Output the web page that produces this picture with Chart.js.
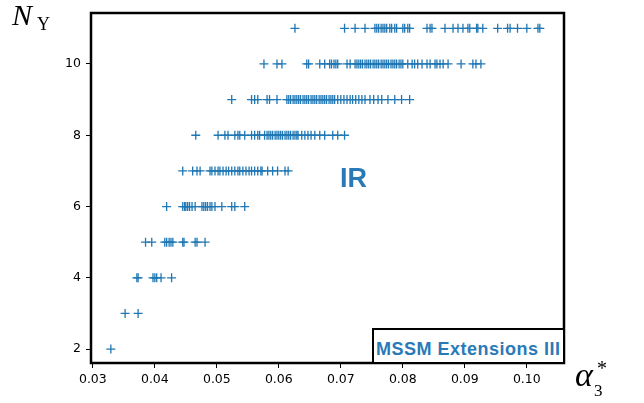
<!DOCTYPE html>
<html>
<head>
<meta charset="utf-8">
<script src="https://cdn.jsdelivr.net/npm/chart.js@4"></script>
<style>
  html, body { margin: 0; padding: 0; background: #fff; }
  #wrap { position: relative; width: 644px; height: 403px; }
  canvas { position: absolute; left: 0; top: 0; }
  .lbl { position: absolute; white-space: nowrap; line-height: 1; }
  .serif { font-family: "Liberation Serif", "DejaVu Serif", serif; color: #000; }
  #ir { left: 340px; top: 163px; font: bold 27px "Liberation Sans", Arial, sans-serif; color: #2a7ab8; }
  #box { position: absolute; left: 372px; top: 328px; width: 189px; height: 32px; border: 2px solid #000; border-bottom: none; background: #fff; }
  #boxText { left: 376px; top: 339px; font: bold 18px "Liberation Sans", Arial, sans-serif; color: #2a7ab8; letter-spacing: 0.5px; }
</style>
</head>
<body>
<div id="wrap">
  <canvas id="chart" width="644" height="403"></canvas>
  <div id="box"></div>
  <span class="lbl" id="ir">IR</span>
  <span class="lbl" id="boxText">MSSM Extensions III</span>
  <span class="lbl serif" style="left:12px; top:0px; font-size:30px; font-style:italic;">N</span>
  <span class="lbl serif" style="left:37px; top:15px; font-size:18px;">Y</span>
  <span class="lbl serif" style="left:575px; top:358px; font-size:34px; font-style:italic;">α</span>
  <span class="lbl serif" style="left:594px; top:382px; font-size:17px;">3</span>
  <span class="lbl serif" style="left:597px; top:358px; font-size:20px;">*</span>
</div>
<script>
// Scatter of N_Y against alpha_3* (one row of alpha values per N_Y)

const N_VALUES = [2, 3, 4, 5, 6, 7, 8, 9, 10, 11];

const alphaN2 = [0.0329];
const alphaN3 = [0.0352, 0.0373];
const alphaN4 = [0.0371, 0.0373, 0.0397, 0.0400, 0.0403, 0.0410, 0.0427];
const alphaN5 = [0.0385, 0.0395, 0.0416, 0.0419, 0.0423, 0.0426, 0.0429, 0.0445, 0.0447,
                 0.0465, 0.0468, 0.0481];
const alphaN6 = [0.0419, 0.0445, 0.0448, 0.0450, 0.0453, 0.0456, 0.0460, 0.0465, 0.0476,
                 0.0479, 0.0482, 0.0485, 0.0489, 0.0492, 0.0497, 0.0508, 0.0524, 0.0529, 0.0545];
const alphaN7 = [0.0445, 0.0461, 0.0468, 0.0473, 0.0489, 0.0492, 0.0497, 0.0502, 0.0505,
                 0.0510, 0.0515, 0.0519, 0.0524, 0.0529, 0.0534, 0.0537, 0.0542, 0.0547,
                 0.0552, 0.0556, 0.0561, 0.0566, 0.0571, 0.0573, 0.0582, 0.0590, 0.0598,
                 0.0610, 0.0615];
const alphaN8 = [0.0466, 0.0502, 0.0513, 0.0518, 0.0529, 0.0534, 0.0537, 0.0545, 0.0556,
                 0.0561, 0.0566, 0.0569, 0.0577, 0.0581, 0.0584, 0.0587, 0.0590, 0.0594,
                 0.0597, 0.0600, 0.0603, 0.0606, 0.0610, 0.0613, 0.0616, 0.0619, 0.0623,
                 0.0626, 0.0629, 0.0631, 0.0637, 0.0642, 0.0647, 0.0652, 0.0658, 0.0666,
                 0.0674, 0.0687, 0.0695, 0.0706];
const alphaN9 = [0.0524, 0.0556, 0.0561, 0.0566, 0.0581, 0.0585, 0.0597, 0.0613, 0.0616,
                 0.0619, 0.0623, 0.0626, 0.0629, 0.0632, 0.0635, 0.0639, 0.0642, 0.0645,
                 0.0648, 0.0652, 0.0655, 0.0658, 0.0661, 0.0665, 0.0668, 0.0671, 0.0674,
                 0.0677, 0.0681, 0.0684, 0.0687, 0.0690, 0.0695, 0.0700, 0.0705, 0.0710,
                 0.0715, 0.0719, 0.0724, 0.0729, 0.0734, 0.0739, 0.0747, 0.0753, 0.0760,
                 0.0766, 0.0776, 0.0787, 0.0798, 0.0811];
const alphaN10 = [0.0576, 0.0597, 0.0605, 0.0645, 0.0648, 0.0666, 0.0674, 0.0682, 0.0685,
                  0.0689, 0.0692, 0.0695, 0.0710, 0.0715, 0.0723, 0.0726, 0.0729, 0.0732,
                  0.0735, 0.0739, 0.0742, 0.0745, 0.0748, 0.0752, 0.0755, 0.0758, 0.0761,
                  0.0765, 0.0768, 0.0771, 0.0774, 0.0777, 0.0781, 0.0784, 0.0787, 0.0790,
                  0.0794, 0.0797, 0.0800, 0.0808, 0.0815, 0.0819, 0.0824, 0.0831, 0.0839,
                  0.0844, 0.0852, 0.0855, 0.0860, 0.0865, 0.0873, 0.0894, 0.0913, 0.0918,
                  0.0926];
const alphaN11 = [0.0626, 0.0706, 0.0723, 0.0739, 0.0755, 0.0758, 0.0761, 0.0765, 0.0768,
                  0.0771, 0.0774, 0.0779, 0.0782, 0.0787, 0.0790, 0.0800, 0.0803, 0.0808,
                  0.0811, 0.0839, 0.0844, 0.0847, 0.0868, 0.0881, 0.0889, 0.0897, 0.0905,
                  0.0908, 0.0919, 0.0921, 0.0929, 0.0953, 0.0969, 0.0973, 0.0985, 0.1000,
                  0.1018, 0.1021];

const ALPHA_ROWS = [alphaN2, alphaN3, alphaN4, alphaN5, alphaN6, alphaN7, alphaN8, alphaN9, alphaN10, alphaN11];

const X_TICKS = [0.03, 0.04, 0.05, 0.06, 0.07, 0.08, 0.09, 0.10];
const Y_TICKS = [2, 4, 6, 8, 10];

const BLUE = "#1f77b4";

const points = [];
ALPHA_ROWS.forEach(function (row, i) {
  row.forEach(function (a) { points.push({ x: a, y: N_VALUES[i] }); });
});

// black frame round the plot area, like matplotlib's spines
const framePlugin = {
  id: "frame",
  afterDraw: function (chart) {
    const a = chart.chartArea;
    const ctx = chart.ctx;
    ctx.save();
    ctx.strokeStyle = "#000";
    ctx.lineWidth = 2.5;
    ctx.strokeRect(a.left, a.top, a.right - a.left, a.bottom - a.top);
    ctx.restore();
  }
};

new Chart(document.getElementById("chart").getContext("2d"), {
  type: "scatter",
  data: {
    datasets: [{
      data: points,
      pointStyle: "cross",
      pointRadius: 4.5,
      pointHoverRadius: 4.5,
      borderWidth: 1.3,
      borderColor: BLUE,
      backgroundColor: BLUE
    }]
  },
  options: {
    responsive: false,
    animation: false,
    layout: { padding: { top: 13, right: 80, left: 0, bottom: 0 } },
    plugins: { legend: { display: false }, tooltip: { enabled: false } },
    scales: {
      x: {
        type: "linear",
        min: 0.0297,
        max: 0.1060,
        afterBuildTicks: function (s) { s.ticks = X_TICKS.map(function (v) { return { value: v }; }); },
        afterFit: function (s) { s.height = 40; },
        border: { display: false },
        grid: { drawOnChartArea: false, drawTicks: true, tickLength: 5, tickWidth: 1, tickColor: "#000" },
        ticks: {
          color: "#000",
          padding: 4,
          maxRotation: 0,
          font: { family: "DejaVu Sans", size: 12.5 },
          callback: function (v) { return Number(v).toFixed(2); }
        }
      },
      y: {
        type: "linear",
        min: 1.61,
        max: 11.43,
        afterBuildTicks: function (s) { s.ticks = Y_TICKS.map(function (v) { return { value: v }; }); },
        afterFit: function (s) { s.width = 91; },
        border: { display: false },
        grid: { drawOnChartArea: false, drawTicks: true, tickLength: 5, tickWidth: 1, tickColor: "#000" },
        ticks: {
          color: "#000",
          padding: 5,
          font: { family: "DejaVu Sans", size: 12.5 }
        }
      }
    }
  },
  plugins: [framePlugin]
});
</script>
</body>
</html>
